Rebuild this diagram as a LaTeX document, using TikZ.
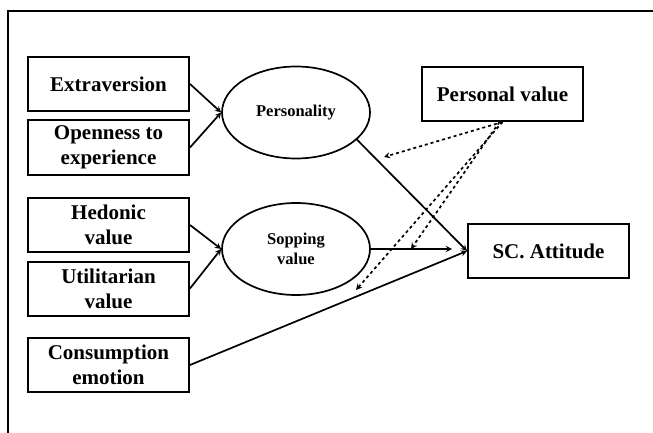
\documentclass[tikz,border=0pt]{standalone}
\usepackage{fontspec}
\setmainfont{Liberation Serif}
\usetikzlibrary{shapes.geometric}

\begin{document}
\begin{tikzpicture}[x=1pt,y=-1pt,->,>=stealth,line width=1.7pt,box node/.style={draw,line width=2pt,minimum width=161pt,minimum height=54pt,inner sep=0pt,align=center,font=\bfseries\fontsize{21}{25}\selectfont},oval node/.style={ellipse,draw,line width=1.7pt,minimum width=148pt,minimum height=92pt,inner sep=0pt,align=center,font=\bfseries\fontsize{16.5}{20}\selectfont}]

            \useasboundingbox (0,0) rectangle (653,433);
            \draw[-,line width=2pt] (7.5,433) -- (7.5,11) -- (653,11);

            \node[box node] (1) at (108.5,84) {Extraversion};
            \node[box node] (2) at (108.5,147.5) {Openness to\\experience};
            \node[box node] (3) at (108.5,225) {Hedonic\\value};
            \node[box node] (4) at (108.5,288.5) {Utilitarian\\value};
            \node[box node] (5) at (108.5,365) {Consumption\\emotion};
            \node[oval node] (6) at (296,112.5) {Personality};
            \node[oval node] (7) at (296,249) {Sopping\\value};
            \node[box node] (8) at (502.5,94) {Personal value};
            \node[box node] (9) at (548.5,251) {SC. Attitude};

            \coordinate (10) at (452,249);
            \coordinate (11) at (384,157);
            \coordinate (12) at (411,249);
            \coordinate (13) at (356,290);

            \draw (1.east) to (6.west);
            \draw (2.east) to (6.west);
            \draw (3.east) to (7.west);
            \draw (4.east) to (7.west);
            \draw (6.-24) to (9.west);
            \draw (7.east) to (10);
            \draw (5.east) to (9.west);
            \draw[dashed] (8.south) to (11);
            \draw[dashed] ([xshift=-3pt]8.south) to (12);
            \draw[dashed] (8.south) to (13);

            ;
        \end{tikzpicture}
\end{document}
